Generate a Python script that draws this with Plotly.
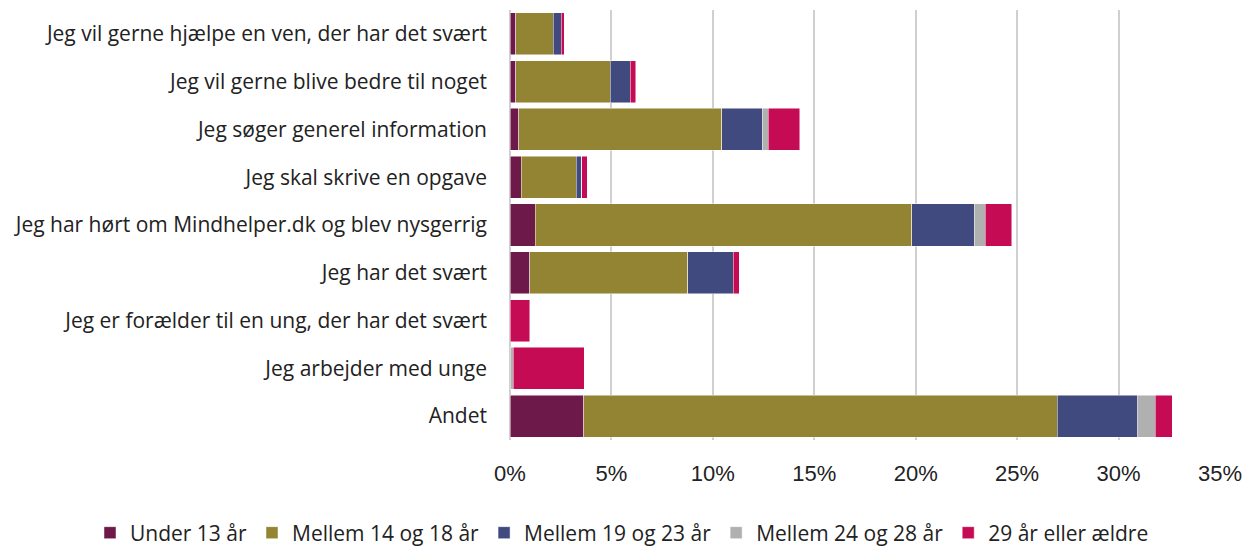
import plotly.graph_objects as go

categories = [
    "Jeg vil gerne hjælpe en ven, der har det svært",
    "Jeg vil gerne blive bedre til noget",
    "Jeg søger generel information",
    "Jeg skal skrive en opgave",
    "Jeg har hørt om Mindhelper.dk og blev nysgerrig",
    "Jeg har det svært",
    "Jeg er forælder til en ung, der har det svært",
    "Jeg arbejder med unge",
    "Andet",
]

series_names = ["Under 13 år", "Mellem 14 og 18 år", "Mellem 19 og 23 år",
                "Mellem 24 og 28 år", "29 år eller ældre"]

under_13 = [0.28, 0.28, 0.43, 0.56, 1.25, 0.97, 0.0, 0.0, 3.64]
mellem_14_18 = [1.85, 4.65, 10.01, 2.71, 18.55, 7.79, 0.0, 0.0, 23.34]
mellem_19_23 = [0.40, 0.99, 2.00, 0.26, 3.09, 2.24, 0.0, 0.0, 3.96]
mellem_24_28 = [0.0, 0.0, 0.28, 0.0, 0.54, 0.0, 0.0, 0.15, 0.86]
over_29 = [0.15, 0.28, 1.57, 0.28, 1.30, 0.30, 0.97, 3.51, 0.84]

colors = ["#6D1A4A", "#928432", "#404A7E", "#B0B0B0", "#C60B55"]

tick_vals = [0, 5, 10, 15, 20, 25, 30, 35]
tick_text = ["0%", "5%", "10%", "15%", "20%", "25%", "30%", "35%"]

fig = go.Figure()
for name, vals, col in zip(series_names,
                           [under_13, mellem_14_18, mellem_19_23, mellem_24_28, over_29],
                           colors):
    fig.add_trace(go.Bar(
        y=categories, x=vals, name=name, orientation="h",
        marker=dict(color=col, line=dict(color="rgba(255,255,255,0.6)", width=0.8)),
    ))

fig.update_layout(
    barmode="stack",
    bargap=0.12,
    width=1254, height=551,
    margin=dict(l=510, r=34, t=10, b=111, autoexpand=False),
    plot_bgcolor="white", paper_bgcolor="white",
    font=dict(family="Open Sans", color="#222222"),
    legend=dict(
        orientation="h", x=(90 - 510) / 710, xref="paper", xanchor="left",
        y=-(533 - 440) / 430, yref="paper", yanchor="middle",
        font=dict(family="Open Sans", size=21, color="#222222"),
        traceorder="normal", itemwidth=30,
    ),
    xaxis=dict(
        range=[0, 35], tickvals=tick_vals, ticktext=tick_text,
        showgrid=True, gridcolor="#D0D0D0", gridwidth=2,
        zeroline=True, zerolinecolor="#D0D0D0", zerolinewidth=2,
        tickfont=dict(family="Liberation Sans", size=22, color="#222222"),
        ticks="", ticklabelstandoff=18, automargin=False,
    ),
    yaxis=dict(
        categoryorder="array", categoryarray=categories, autorange="reversed",
        tickfont=dict(family="Open Sans", size=21, color="#222222"),
        ticks="", ticklabelstandoff=22, automargin=False,
    ),
)

fig.write_html("out.html", config={"displayModeBar": False},
               post_script="document.body.style.margin='0px';")
